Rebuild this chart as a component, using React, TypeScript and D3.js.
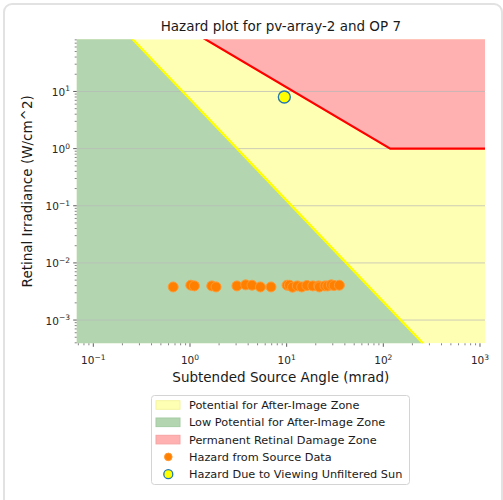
import React from 'react';
import * as d3 from 'd3';

// threshold curves (mrad, W/cm^2)
const afterImageAngle = [0.05, 1, 10, 100, 1200];
const afterImageIrr = [1469, 7.28, 0.123, 0.00208, 0.0000255];

const damageAngle = [0.5, 118, 1200];
const damageIrr = [236, 1, 1];

// hazard from source data
const sourceAngle = [0.67, 1.02, 1.11, 1.68, 1.86, 3.06, 3.77, 4.38, 5.35, 6.89, 10.1, 10.7, 11.5, 12.9, 14.3, 16.2, 18.6, 21.4, 21.8, 24.9, 26.6, 29.0, 30.9, 35.1];
const sourceIrr = [0.0038, 0.00407, 0.00396, 0.00396, 0.0038, 0.00396, 0.00413, 0.00407, 0.0038, 0.0038, 0.00407, 0.00407, 0.00376, 0.00396, 0.0038, 0.00402, 0.00396, 0.00396, 0.0038, 0.00396, 0.00396, 0.00413, 0.00402, 0.00407];

// unfiltered sun
const sunAngle = [9.46];
const sunIrr = [8.0];

const xTickExps = [-1, 0, 1, 2, 3];
const yTickExps = [-3, -2, -1, 0, 1];

const legendLabels = [
  'Potential for After-Image Zone',
  'Low Potential for After-Image Zone',
  'Permanent Retinal Damage Zone',
  'Hazard from Source Data',
  'Hazard Due to Viewing Unfiltered Sun',
];

const YELLOW_FILL = '#ffffb3';
const GREEN_FILL = '#b3d6b1';
const RED_FILL = '#ffb0b0';
const FONT = 'DejaVu Sans, sans-serif';

const App: React.FC = () => {
  const W = 503, H = 500;
  const left = 76.7, right = 485, top = 39.3, bottom = 343.3;

  const x = d3.scaleLog().domain([0.0673, 1127]).range([left, right]);
  const y = d3.scaleLog().domain([0.000392, 81.8]).range([bottom, top]);

  const afterPts = afterImageAngle.map((a, i) => [a, afterImageIrr[i]] as [number, number]);
  const damagePts = damageAngle.map((a, i) => [a, damageIrr[i]] as [number, number]);

  const greenArea = d3.area<[number, number]>()
    .x(d => x(d[0]))
    .y0(bottom + 10)
    .y1(d => y(d[1]))(afterPts) || '';

  const redArea = d3.area<[number, number]>()
    .x(d => x(d[0]))
    .y0(d => y(d[1]))
    .y1(top - 10)(damagePts) || '';

  const line = d3.line<[number, number]>().x(d => x(d[0])).y(d => y(d[1]));

  // minor ticks for log axes
  const minor = (lo: number, hi: number) => {
    const out: number[] = [];
    for (let e = lo; e <= hi; e++) for (let k = 2; k <= 9; k++) out.push(k * Math.pow(10, e));
    return out;
  };
  const xMinor = minor(-2, 3).filter(v => v >= x.domain()[0] && v <= x.domain()[1]);
  const yMinor = minor(-4, 1).filter(v => v >= y.domain()[0] && v <= y.domain()[1]);

  const supLabel = (e: number) => (
    <>
      <tspan>10</tspan>
      <tspan dy={-4.5} fontSize={7.5}>{e < 0 ? '\u2212' + Math.abs(e) : String(e)}</tspan>
    </>
  );

  const legendY = [405, 422.3, 439.6, 456.9, 474.2];

  return (
    <svg width={W} height={H} style={{ position: 'absolute', left: 0, top: 0 }} fontFamily={FONT}>
      <rect x={4} y={4} width={498} height={520} rx={8} fill="#fff" stroke="#e2e2e2" strokeWidth={2} />

      <defs>
        <clipPath id="plot">
          <rect x={left} y={top} width={right - left} height={bottom - top} />
        </clipPath>
      </defs>

      <g clipPath="url(#plot)">
        <rect x={left} y={top} width={right - left} height={bottom - top} fill={YELLOW_FILL} />
        <path d={greenArea} fill={GREEN_FILL} />
        <path d={redArea} fill={RED_FILL} />
        {yTickExps.map(e => (
          <line key={e} x1={left} x2={right} y1={y(Math.pow(10, e))} y2={y(Math.pow(10, e))} stroke="#b8b8b8" strokeOpacity={0.8} strokeWidth={0.9} />
        ))}
        <path d={line(afterPts) || ''} fill="none" stroke="#ffff00" strokeWidth={2.2} />
        <path d={line(damagePts) || ''} fill="none" stroke="#ff0000" strokeWidth={2.2} />
        {sourceAngle.map((a, i) => (
          <circle key={i} cx={x(a)} cy={y(sourceIrr[i])} r={5} fill="#ff8000" stroke="#ff9a33" strokeWidth={1} />
        ))}
        {sunAngle.map((a, i) => (
          <circle key={'s' + i} cx={x(a)} cy={y(sunIrr[i])} r={6} fill="#ffff00" stroke="#1f77b4" strokeWidth={1.3} />
        ))}
      </g>

      {/* x axis ticks */}
      {xTickExps.map(e => {
        const px = x(Math.pow(10, e));
        return (
          <g key={e}>
            <line x1={px} x2={px} y1={bottom} y2={bottom + 3.5} stroke="#333" strokeWidth={0.8} />
            <text x={px} y={364} fontSize={10.5} fill="#262626" textAnchor="middle">{supLabel(e)}</text>
          </g>
        );
      })}
      {xMinor.map((v, i) => (
        <line key={i} x1={x(v)} x2={x(v)} y1={bottom} y2={bottom + 2} stroke="#333" strokeWidth={0.6} />
      ))}

      {/* y axis ticks */}
      {yTickExps.map(e => {
        const py = y(Math.pow(10, e));
        return (
          <g key={e}>
            <line x1={left - 3.5} x2={left} y1={py} y2={py} stroke="#333" strokeWidth={0.8} />
            <text x={70} y={py + 4.5} fontSize={10.5} fill="#262626" textAnchor="end">{supLabel(e)}</text>
          </g>
        );
      })}
      {yMinor.map((v, i) => (
        <line key={i} x1={left - 2} x2={left} y1={y(v)} y2={y(v)} stroke="#333" strokeWidth={0.6} />
      ))}

      <text x={(left + right) / 2} y={31} fontSize={13.5} textAnchor="middle" fill="#1a1a1a">Hazard plot for pv-array-2 and OP 7</text>
      <text x={(left + right) / 2} y={382} fontSize={13.5} textAnchor="middle" fill="#1a1a1a">Subtended Source Angle (mrad)</text>
      <text transform={`translate(32, ${(top + bottom) / 2}) rotate(-90)`} fontSize={13.5} textAnchor="middle" fill="#1a1a1a">Retinal Irradiance (W/cm^2)</text>

      {/* legend */}
      <rect x={151.5} y={395.5} width={258} height={89} rx={3} fill="#fff" stroke="#d4d4d4" />
      {legendLabels.map((lab, i) => {
        const cy = legendY[i];
        let marker: React.ReactNode = null;
        if (i === 0) marker = <rect x={156} y={cy - 4.3} width={24} height={8.6} fill={YELLOW_FILL} stroke="#f4f4a0" />;
        if (i === 1) marker = <rect x={156} y={cy - 4.3} width={24} height={8.6} fill={GREEN_FILL} stroke="#a5cca3" />;
        if (i === 2) marker = <rect x={156} y={cy - 4.3} width={24} height={8.6} fill={RED_FILL} stroke="#f7a3a3" />;
        if (i === 3) marker = <circle cx={168.3} cy={cy} r={3.8} fill="#ff8000" stroke="#ff9a33" strokeWidth={1} />;
        if (i === 4) marker = <circle cx={168.3} cy={cy} r={4.5} fill="#ffff00" stroke="#1f77b4" strokeWidth={1.3} />;
        return (
          <g key={i}>
            {marker}
            <text x={189} y={cy + 4} fontSize={11.3} fill="#1a1a1a">{lab}</text>
          </g>
        );
      })}
    </svg>
  );
};

export default App;
